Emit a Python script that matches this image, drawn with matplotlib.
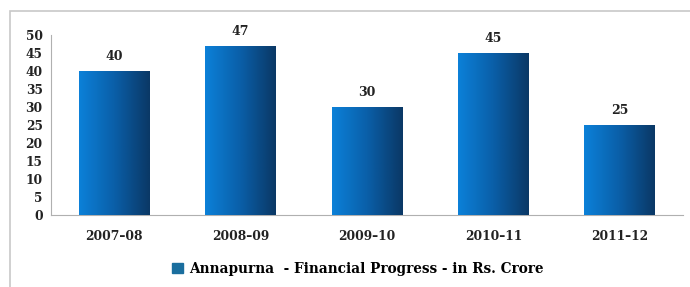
import numpy as np
import matplotlib
matplotlib.use("Agg")
import matplotlib.pyplot as plt
from matplotlib.colors import LinearSegmentedColormap
from matplotlib.patches import Rectangle, Patch

years = ["2007\u201308", "2008\u201309", "2009\u201310", "2010\u201311", "2011\u201312"]
progress = [40, 47, 30, 45, 25]
series_name = "Annapurna  - Financial Progress - in Rs. Crore"

plt.rcParams["font.family"] = ["DejaVu Serif"]
plt.rcParams["font.weight"] = "bold"

fig = plt.figure(figsize=(6.9, 2.87), dpi=100)
ax = fig.add_axes([51 / 690, 1 - 215 / 287, 632 / 690, 180 / 287])

# light outer frame of the chart area
fig.patches.append(Rectangle((10 / 690, -0.1), 2.0, 1 - 11 / 287 + 0.1,
                             transform=fig.transFigure, fill=False,
                             edgecolor="#c8c8c8", linewidth=1.2))

bars = ax.bar(range(len(years)), progress, width=0.56, color="#0a64b4", zorder=2)

grad = LinearSegmentedColormap.from_list("g", ["#0c80d8", "#0a5fa8", "#0a3866"])
for b in bars:
    img = ax.imshow(np.linspace(0, 1, 64).reshape(1, -1), cmap=grad, aspect="auto",
                    extent=[b.get_x(), b.get_x() + b.get_width(), 0, b.get_height()],
                    zorder=3)
    img.set_clip_path(b)
    ax.text(b.get_x() + b.get_width() / 2, b.get_height() + 2.2, str(int(b.get_height())),
            ha="center", va="bottom", fontsize=9, fontweight="bold", color="#222222")

ax.set_xlim(-0.5, len(years) - 0.5)
ax.set_ylim(0, 50)
ax.set_yticks(range(0, 51, 5))
ax.set_xticks(range(len(years)))
ax.set_xticklabels(years)
ax.tick_params(axis="both", length=0, labelsize=8.8, colors="#222222")
ax.tick_params(axis="x", pad=11)
ax.tick_params(axis="y", pad=6)
for lab in ax.get_xticklabels() + ax.get_yticklabels():
    lab.set_fontweight("bold")

for s in ["top", "right"]:
    ax.spines[s].set_visible(False)
ax.spines["left"].set_color("#b0b0b0")
ax.spines["bottom"].set_color("#b0b0b0")

handle = Patch(facecolor="#1a6e9e", edgecolor="#1a6e9e")
fig.legend([handle], [series_name], loc="center", bbox_to_anchor=(358 / 690, 1 - 269 / 287),
           frameon=False, handlelength=0.8, handleheight=0.8, handletextpad=0.5,
           prop={"size": 9.8, "weight": "bold"})

fig.savefig("out.png", dpi=100)
